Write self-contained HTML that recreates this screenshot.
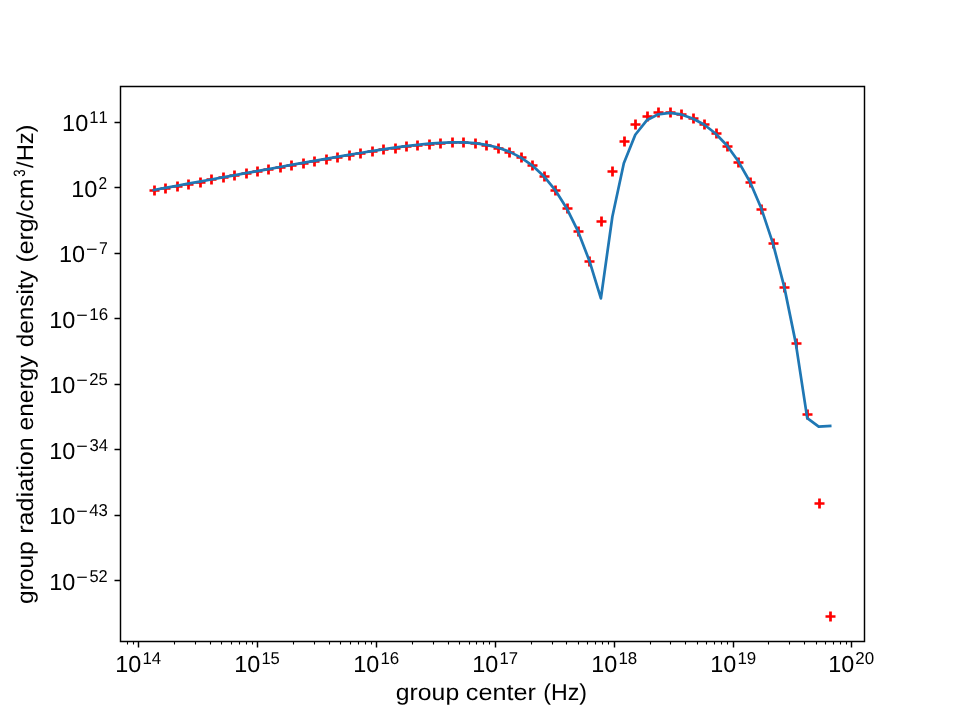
<!DOCTYPE html>
<html lang="en"><head><meta charset="utf-8"><title>group radiation energy density</title>
<style>html,body{margin:0;padding:0;background:#fff;}body{width:960px;height:720px;overflow:hidden;font-family:"Liberation Sans",sans-serif;}svg{display:block;}text{font-family:"Liberation Sans",sans-serif;font-kerning:none;text-rendering:geometricPrecision;fill:#000;}</style>
</head><body>
<svg width="960" height="720" viewBox="0 0 960 720">
<rect x="0" y="0" width="960" height="720" fill="#ffffff"/>
<path d="M149.50 190.5H159.50M154.5 185.50V195.50M160.50 188.5H170.50M165.5 183.50V193.50M172.50 186.5H182.50M177.5 181.50V191.50M183.50 184.5H193.50M188.5 179.50V189.50M195.50 182.5H205.50M200.5 177.50V187.50M206.50 179.5H216.50M211.5 174.50V184.50M218.50 177.5H228.50M223.5 172.50V182.50M229.50 175.5H239.50M234.5 170.50V180.50M241.50 173.5H251.50M246.5 168.50V178.50M252.50 171.5H262.50M257.5 166.50V176.50M263.50 169.5H273.50M268.5 164.50V174.50M275.50 167.5H285.50M280.5 162.50V172.50M286.50 165.5H296.50M291.5 160.50V170.50M298.50 163.5H308.50M303.5 158.50V168.50M309.50 161.5H319.50M314.5 156.50V166.50M321.50 159.5H331.50M326.5 154.50V164.50M332.50 157.5H342.50M337.5 152.50V162.50M344.50 155.5H354.50M349.5 150.50V160.50M355.50 153.5H365.50M360.5 148.50V158.50M367.50 151.5H377.50M372.5 146.50V156.50M378.50 149.5H388.50M383.5 144.50V154.50M390.50 148.5H400.50M395.5 143.50V153.50M401.50 146.5H411.50M406.5 141.50V151.50M412.50 145.5H422.50M417.5 140.50V150.50M424.50 144.5H434.50M429.5 139.50V149.50M435.50 143.5H445.50M440.5 138.50V148.50M447.50 142.5H457.50M452.5 137.50V147.50M458.50 142.5H468.50M463.5 137.50V147.50M470.50 143.5H480.50M475.5 138.50V148.50M481.50 145.5H491.50M486.5 140.50V150.50M493.50 148.5H503.50M498.5 143.50V153.50M504.50 152.5H514.50M509.5 147.50V157.50M516.50 157.5H526.50M521.5 152.50V162.50M527.50 165.5H537.50M532.5 160.50V170.50M539.50 176.5H549.50M544.5 171.50V181.50M550.50 190.5H560.50M555.5 185.50V195.50M562.50 208.5H572.50M567.5 203.50V213.50M573.50 231.5H583.50M578.5 226.50V236.50M584.50 261.5H594.50M589.5 256.50V266.50M596.50 221.5H606.50M601.5 216.50V226.50M607.50 171.5H617.50M612.5 166.50V176.50M619.50 141.5H629.50M624.5 136.50V146.50M630.50 124.5H640.50M635.5 119.50V129.50M642.50 116.5H652.50M647.5 111.50V121.50M653.50 112.5H663.50M658.5 107.50V117.50M665.50 112.5H675.50M670.5 107.50V117.50M676.50 114.5H686.50M681.5 109.50V119.50M688.50 118.5H698.50M693.5 113.50V123.50M699.50 124.5H709.50M704.5 119.50V129.50M711.50 133.5H721.50M716.5 128.50V138.50M722.50 146.5H732.50M727.5 141.50V151.50M733.50 162.5H743.50M738.5 157.50V167.50M745.50 182.5H755.50M750.5 177.50V187.50M756.50 209.5H766.50M761.5 204.50V214.50M768.50 243.5H778.50M773.5 238.50V248.50M779.50 287.5H789.50M784.5 282.50V292.50M791.50 343.5H801.50M796.5 338.50V348.50M802.50 414.5H812.50M807.5 409.50V419.50M814.50 503.5H824.50M819.5 498.50V508.50M825.50 616.5H835.50M830.5 611.50V621.50" fill="none" stroke="#ff0000" stroke-width="2.73" stroke-linecap="butt"/>
<polyline points="153.83,190.01 165.29,187.91 176.76,185.80 188.22,183.69 199.68,181.59 211.15,179.49 222.61,177.39 234.07,175.30 245.54,173.21 257.00,171.12 268.46,169.04 279.93,166.97 291.39,164.91 302.85,162.87 314.32,160.84 325.78,158.83 337.24,156.85 348.71,154.91 360.17,153.00 371.63,151.16 383.10,149.39 394.56,147.72 406.02,146.18 417.49,144.81 428.95,143.66 440.41,142.82 451.88,142.37 463.34,142.45 474.80,143.20 486.27,144.82 497.73,147.53 509.19,151.61 520.66,157.40 532.12,165.33 543.58,175.92 555.05,189.84 566.51,207.92 577.97,231.19 589.44,260.93 600.90,298.35 612.36,216.70 623.83,163.30 635.29,134.75 646.75,120.30 658.22,114.30 669.68,112.80 681.14,114.45 692.61,118.45 704.07,124.45 715.53,133.45 727.00,145.55 738.46,161.55 749.92,181.77 761.38,208.58 772.85,243.06 784.31,287.11 795.77,343.11 807.24,418.10 818.70,426.60 830.16,425.90" fill="none" stroke="#1f77b4" stroke-width="2.73" stroke-linejoin="round" stroke-linecap="square"/>
<path d="M138.5 641.5V647.5M257.5 641.5V647.5M376.5 641.5V647.5M495.5 641.5V647.5M614.5 641.5V647.5M733.5 641.5V647.5M851.5 641.5V647.5M114.5 122.5H120.5M114.5 187.5H120.5M114.5 253.5H120.5M114.5 318.5H120.5M114.5 384.5H120.5M114.5 449.5H120.5M114.5 515.5H120.5M114.5 580.5H120.5" fill="none" stroke="#000" stroke-width="1.46"/>
<path d="M127.5 641.5V644.5M133.5 641.5V644.5M174.5 641.5V644.5M195.5 641.5V644.5M210.5 641.5V644.5M221.5 641.5V644.5M231.5 641.5V644.5M239.5 641.5V644.5M246.5 641.5V644.5M252.5 641.5V644.5M293.5 641.5V644.5M314.5 641.5V644.5M329.5 641.5V644.5M340.5 641.5V644.5M350.5 641.5V644.5M358.5 641.5V644.5M365.5 641.5V644.5M371.5 641.5V644.5M412.5 641.5V644.5M433.5 641.5V644.5M448.5 641.5V644.5M459.5 641.5V644.5M469.5 641.5V644.5M476.5 641.5V644.5M483.5 641.5V644.5M489.5 641.5V644.5M531.5 641.5V644.5M552.5 641.5V644.5M566.5 641.5V644.5M578.5 641.5V644.5M587.5 641.5V644.5M595.5 641.5V644.5M602.5 641.5V644.5M608.5 641.5V644.5M650.5 641.5V644.5M670.5 641.5V644.5M685.5 641.5V644.5M697.5 641.5V644.5M706.5 641.5V644.5M714.5 641.5V644.5M721.5 641.5V644.5M727.5 641.5V644.5M768.5 641.5V644.5M789.5 641.5V644.5M804.5 641.5V644.5M816.5 641.5V644.5M825.5 641.5V644.5M833.5 641.5V644.5M840.5 641.5V644.5M846.5 641.5V644.5" fill="none" stroke="#000" stroke-width="1.09"/>
<path d="M120.5 85.77V642.23M864.5 85.77V642.23M119.77 86.5H865.23M119.77 641.5H865.23" fill="none" stroke="#000" stroke-width="1.46"/>
<g style="will-change:transform">
<text x="115.32" y="672.00" font-size="23.2" textLength="25.99" lengthAdjust="spacingAndGlyphs">10</text>
<text x="142.40" y="664.00" font-size="17.2" textLength="18.72" lengthAdjust="spacingAndGlyphs">14</text>
<text x="234.32" y="672.00" font-size="23.2" textLength="25.99" lengthAdjust="spacingAndGlyphs">10</text>
<text x="261.42" y="664.00" font-size="17.2" textLength="18.42" lengthAdjust="spacingAndGlyphs">15</text>
<text x="353.32" y="672.00" font-size="23.2" textLength="25.99" lengthAdjust="spacingAndGlyphs">10</text>
<text x="380.39" y="664.00" font-size="17.2" textLength="18.88" lengthAdjust="spacingAndGlyphs">16</text>
<text x="472.32" y="672.00" font-size="23.2" textLength="25.99" lengthAdjust="spacingAndGlyphs">10</text>
<text x="499.41" y="664.00" font-size="17.2" textLength="18.61" lengthAdjust="spacingAndGlyphs">17</text>
<text x="591.32" y="672.00" font-size="23.2" textLength="25.99" lengthAdjust="spacingAndGlyphs">10</text>
<text x="618.40" y="664.00" font-size="17.2" textLength="18.77" lengthAdjust="spacingAndGlyphs">18</text>
<text x="710.32" y="672.00" font-size="23.2" textLength="25.99" lengthAdjust="spacingAndGlyphs">10</text>
<text x="737.39" y="664.00" font-size="17.2" textLength="18.82" lengthAdjust="spacingAndGlyphs">19</text>
<text x="828.32" y="672.00" font-size="23.2" textLength="25.99" lengthAdjust="spacingAndGlyphs">10</text>
<text x="855.27" y="664.00" font-size="17.2" textLength="18.86" lengthAdjust="spacingAndGlyphs">20</text>
<text x="62.11" y="131.00" font-size="23.2" textLength="26.10" lengthAdjust="spacingAndGlyphs">10</text>
<text x="89.34" y="123.00" font-size="17.2" textLength="18.46" lengthAdjust="spacingAndGlyphs">11</text>
<text x="71.25" y="197.00" font-size="23.2" textLength="26.10" lengthAdjust="spacingAndGlyphs">10</text>
<text x="98.40" y="189.00" font-size="17.2" textLength="8.65" lengthAdjust="spacingAndGlyphs">2</text>
<text x="59.02" y="262.00" font-size="23.2" textLength="26.10" lengthAdjust="spacingAndGlyphs">10</text>
<text x="86.13" y="255.10" font-size="17.2" textLength="11.53" lengthAdjust="spacingAndGlyphs">−</text>
<text x="99.11" y="254.00" font-size="17.2" textLength="8.78" lengthAdjust="spacingAndGlyphs">7</text>
<text x="49.28" y="328.00" font-size="23.2" textLength="26.10" lengthAdjust="spacingAndGlyphs">10</text>
<text x="76.39" y="321.10" font-size="17.2" textLength="11.53" lengthAdjust="spacingAndGlyphs">−</text>
<text x="89.31" y="320.00" font-size="17.2" textLength="18.88" lengthAdjust="spacingAndGlyphs">16</text>
<text x="49.28" y="393.00" font-size="23.2" textLength="26.10" lengthAdjust="spacingAndGlyphs">10</text>
<text x="76.39" y="386.10" font-size="17.2" textLength="11.53" lengthAdjust="spacingAndGlyphs">−</text>
<text x="89.20" y="385.00" font-size="17.2" textLength="18.56" lengthAdjust="spacingAndGlyphs">25</text>
<text x="49.28" y="459.00" font-size="23.2" textLength="26.10" lengthAdjust="spacingAndGlyphs">10</text>
<text x="76.39" y="452.10" font-size="17.2" textLength="11.53" lengthAdjust="spacingAndGlyphs">−</text>
<text x="89.45" y="451.00" font-size="17.2" textLength="18.58" lengthAdjust="spacingAndGlyphs">34</text>
<text x="49.28" y="524.00" font-size="23.2" textLength="26.10" lengthAdjust="spacingAndGlyphs">10</text>
<text x="76.39" y="517.10" font-size="17.2" textLength="11.53" lengthAdjust="spacingAndGlyphs">−</text>
<text x="89.28" y="516.00" font-size="17.2" textLength="18.63" lengthAdjust="spacingAndGlyphs">43</text>
<text x="49.28" y="590.00" font-size="23.2" textLength="26.10" lengthAdjust="spacingAndGlyphs">10</text>
<text x="76.39" y="583.10" font-size="17.2" textLength="11.53" lengthAdjust="spacingAndGlyphs">−</text>
<text x="89.44" y="582.00" font-size="17.2" textLength="18.25" lengthAdjust="spacingAndGlyphs">52</text>
<text x="395.86" y="699.60" font-size="23.0" textLength="63.28" lengthAdjust="spacingAndGlyphs">group</text>
<text x="465.83" y="699.60" font-size="23.0" textLength="70.19" lengthAdjust="spacingAndGlyphs">center</text>
<text x="543.31" y="699.60" font-size="23.0" textLength="43.72" lengthAdjust="spacingAndGlyphs">(Hz)</text>
<text transform="translate(33.00,603.10) rotate(-90)" x="-1.03" y="0" font-size="23.0" textLength="62.92" lengthAdjust="spacingAndGlyphs">group</text>
<text transform="translate(33.00,532.10) rotate(-90)" x="-1.67" y="0" font-size="23.0" textLength="96.50" lengthAdjust="spacingAndGlyphs">radiation</text>
<text transform="translate(33.00,429.40) rotate(-90)" x="-1.04" y="0" font-size="23.0" textLength="74.89" lengthAdjust="spacingAndGlyphs">energy</text>
<text transform="translate(33.00,346.25) rotate(-90)" x="-1.02" y="0" font-size="23.0" textLength="77.02" lengthAdjust="spacingAndGlyphs">density</text>
<text transform="translate(33.00,261.00) rotate(-90)" x="-1.53" y="0" font-size="23.0" textLength="83.76" lengthAdjust="spacingAndGlyphs">(erg/cm</text>
<text transform="translate(25.10,176.30) rotate(-90)" x="-0.51" y="0" font-size="16.4" textLength="7.39" lengthAdjust="spacingAndGlyphs">3</text>
<text transform="translate(33.00,167.90) rotate(-90)" x="0.00" y="0" font-size="23.0" textLength="43.37" lengthAdjust="spacingAndGlyphs">/Hz)</text>
</g>
</svg>
</body></html>
